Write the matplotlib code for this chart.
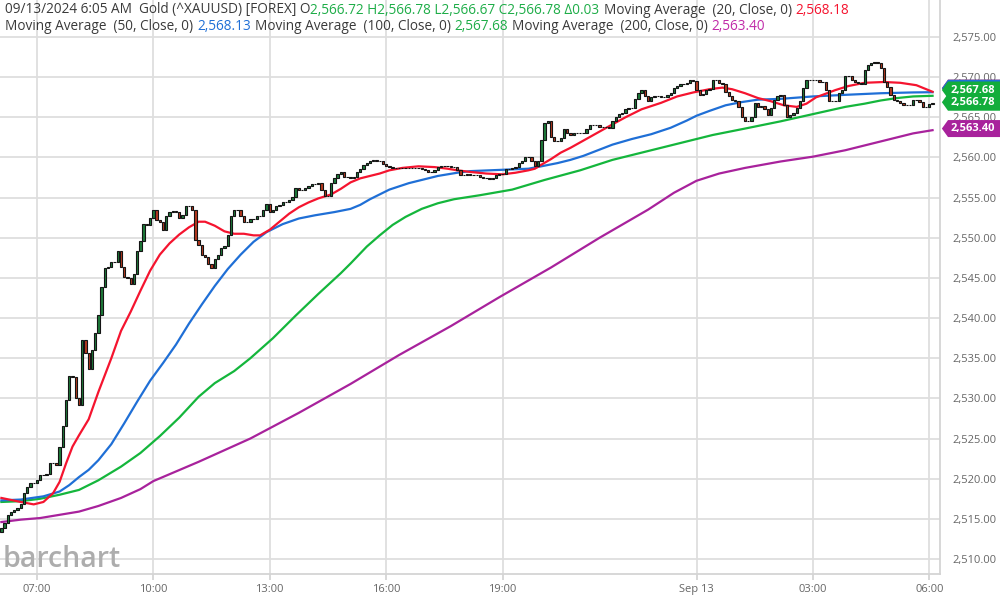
import numpy as np
import pandas as pd
import matplotlib
matplotlib.use('Agg')
import matplotlib.pyplot as plt
from matplotlib.patches import Polygon
from matplotlib.transforms import blended_transform_factory

plt.rcParams['font.family'] = ['Open Sans', 'DejaVu Sans']

# 5 minute closes, 06:05 Sep 12 -> 06:05 Sep 13 (one row per hour)
closes = [
    2513.8, 2514.5, 2515.5, 2515.9, 2516.1, 2516.3, 2516.9, 2518.2, 2519.0, 2519.4, 2519.5, 2519.8,
    2520.5, 2520.5, 2520.6, 2521.9, 2522.0, 2521.7, 2524.0, 2526.6, 2529.8, 2532.8, 2532.7, 2530.0,
    2529.2, 2537.3, 2535.6, 2533.7, 2536.0, 2538.1, 2540.4, 2543.9, 2546.2, 2546.4, 2547.0, 2547.0,
    2548.4, 2546.4, 2545.1, 2545.0, 2544.3, 2545.5, 2548.3, 2549.6, 2551.7, 2551.6, 2552.5, 2553.5,
    2552.2, 2552.0, 2551.0, 2552.7, 2553.2, 2553.3, 2553.2, 2552.5, 2552.8, 2553.9, 2554.0, 2553.5,
    2549.7, 2549.1, 2547.9, 2547.6, 2546.7, 2546.2, 2547.4, 2547.9, 2548.7, 2549.0, 2550.3, 2552.7,
    2553.4, 2553.5, 2552.7, 2552.0, 2552.0, 2552.3, 2552.4, 2552.7, 2552.7, 2553.5, 2554.2, 2553.2,
    2553.5, 2553.9, 2554.1, 2554.4, 2554.4, 2554.7, 2555.1, 2556.2, 2555.9, 2555.9, 2556.2, 2556.4,
    2556.7, 2556.7, 2556.8, 2556.0, 2555.2, 2555.2, 2556.8, 2557.4, 2558.0, 2558.2, 2557.6, 2557.6,
    2557.5, 2557.6, 2558.2, 2558.6, 2559.1, 2559.3, 2559.6, 2559.7, 2559.6, 2559.5, 2559.2, 2559.0,
    2558.8, 2558.7, 2558.7, 2558.7, 2558.7, 2558.7, 2558.7, 2558.7, 2558.7, 2558.7, 2558.6, 2558.4,
    2558.2, 2558.2, 2558.5, 2558.8, 2558.9, 2558.9, 2558.9, 2558.8, 2558.8, 2558.4, 2557.8, 2557.8,
    2557.9, 2557.8, 2557.8, 2557.8, 2557.6, 2557.4, 2557.4, 2557.3, 2557.5, 2557.8, 2557.9, 2558.0,
    2558.6, 2558.6, 2558.7, 2558.8, 2559.3, 2559.5, 2560.0, 2560.0, 2559.6, 2558.9, 2559.6, 2562.2,
    2564.3, 2564.6, 2562.6, 2562.1, 2562.0, 2562.4, 2563.5, 2563.0, 2562.8, 2563.0, 2563.0, 2563.0,
    2563.0, 2563.6, 2564.0, 2564.0, 2564.0, 2563.8, 2563.8, 2563.8, 2563.7, 2564.6, 2565.1, 2565.4,
    2565.5, 2566.0, 2566.1, 2566.1, 2567.3, 2568.0, 2568.4, 2567.6, 2567.0, 2567.5, 2567.6, 2567.6,
    2567.5, 2567.5, 2567.8, 2568.0, 2568.6, 2568.9, 2569.1, 2569.1, 2569.3, 2569.6, 2569.5, 2568.4,
    2567.8, 2567.9, 2568.4, 2568.5, 2569.6, 2569.7, 2569.3, 2569.2, 2568.2, 2567.6, 2567.2, 2567.0,
    2566.3, 2565.1, 2564.5, 2564.6, 2565.0, 2566.8, 2566.3, 2566.4, 2566.0, 2565.3, 2566.1, 2567.2,
    2567.6, 2567.8, 2566.5, 2565.1, 2565.3, 2565.5, 2566.1, 2567.0, 2568.6, 2569.6, 2569.7, 2569.7,
    2569.6, 2569.4, 2569.4, 2568.4, 2567.0, 2567.0, 2567.0, 2568.0, 2568.4, 2570.1, 2570.1, 2569.7,
    2569.4, 2569.3, 2569.2, 2570.9, 2571.5, 2571.8, 2571.9, 2571.8, 2571.1, 2569.4, 2568.8, 2567.8,
    2567.2, 2567.0, 2566.8, 2566.5, 2566.5, 2566.5, 2567.2, 2567.2, 2566.9, 2566.3, 2566.3, 2566.72,
    2566.78,
]
first_open = 2513.3
start_time = '2024-09-12 06:05'

# moving averages read at bar indexes
ma20_idx = [0, 6, 10, 13, 16, 18, 20, 22, 24, 27, 30, 34, 37, 40, 43, 46, 49, 52, 55, 58, 61, 63, 66,
            69, 72, 75, 78, 80, 83, 86, 89, 92, 95, 98, 102, 105, 108, 111, 114, 117, 120, 124, 129,
            134, 138, 141, 145, 150, 155, 159, 163, 165, 167, 170, 173, 176, 180, 184, 188, 193, 198,
            204, 209, 214, 219, 223, 226, 230, 234, 238, 242, 246, 249, 252, 258, 262, 267, 273, 278,
            283, 288]
ma20_val = [2517.6, 2517.1, 2516.8, 2517.1, 2518.2, 2519.6, 2521.9, 2524.0, 2525.4, 2527.4, 2530.8,
            2535.0, 2538.4, 2540.8, 2543.4, 2545.9, 2547.9, 2549.3, 2550.4, 2551.3, 2552.0, 2552.0,
            2551.5, 2550.8, 2550.5, 2550.5, 2550.3, 2550.3, 2551.0, 2552.0, 2553.0, 2553.8, 2554.4,
            2554.9, 2555.4, 2556.1, 2556.9, 2557.4, 2557.7, 2558.0, 2558.4, 2558.7, 2558.9, 2558.8,
            2558.6, 2558.4, 2558.2, 2558.0, 2557.9, 2558.1, 2558.4, 2558.6, 2559.1, 2559.8, 2560.6,
            2561.2, 2562.1, 2563.0, 2563.9, 2565.0, 2566.0, 2566.8, 2567.6, 2568.1, 2568.5, 2568.7,
            2568.5, 2568.0, 2567.4, 2567.0, 2566.5, 2566.3, 2566.7, 2567.5, 2568.4, 2568.9, 2569.3,
            2569.4, 2569.3, 2569.0, 2568.18]

ma50_idx = [0, 6, 13, 18, 21, 24, 27, 30, 34, 38, 42, 46, 50, 54, 58, 62, 66, 70, 74, 78, 82, 87, 92,
            97, 103, 108, 111, 114, 117, 120, 126, 135, 141, 145, 151, 157, 163, 167, 172, 176, 180,
            189, 195, 201, 207, 212, 215, 219, 224, 229, 234, 241, 251, 261, 272, 282, 288]
ma50_val = [2517.3, 2517.4, 2517.8, 2518.4, 2519.2, 2520.2, 2521.1, 2522.3, 2524.3, 2526.9, 2529.6,
            2532.2, 2534.4, 2536.7, 2539.3, 2541.7, 2544.0, 2546.1, 2547.9, 2549.5, 2550.7, 2551.7,
            2552.4, 2552.8, 2553.2, 2553.6, 2554.1, 2554.8, 2555.4, 2556.0, 2556.8, 2557.7, 2558.1,
            2558.3, 2558.4, 2558.5, 2558.6, 2558.9, 2559.3, 2559.7, 2560.2, 2561.6, 2562.3, 2562.9,
            2563.7, 2564.6, 2565.2, 2565.8, 2566.5, 2566.9, 2567.2, 2567.3, 2567.6, 2567.8, 2568.0,
            2568.1, 2568.13]

ma100_idx = [0, 6, 12, 18, 24, 30, 37, 43, 49, 55, 61, 66, 72, 77, 84, 91, 98, 105, 108, 113, 117,
             121, 125, 130, 135, 140, 148, 158, 163, 168, 179, 189, 199, 210, 220, 230, 241, 251,
             261, 267, 272, 277, 282, 288]
ma100_val = [2517.1, 2517.2, 2517.5, 2518.0, 2518.6, 2519.8, 2521.5, 2523.2, 2525.3, 2527.6, 2530.2,
             2531.9, 2533.4, 2535.0, 2537.5, 2540.3, 2543.0, 2545.6, 2546.8, 2548.9, 2550.3, 2551.6,
             2552.6, 2553.6, 2554.3, 2554.8, 2555.3, 2556.0, 2556.6, 2557.2, 2558.4, 2559.7, 2560.7,
             2561.8, 2562.8, 2563.6, 2564.5, 2565.4, 2566.3, 2566.7, 2567.1, 2567.4, 2567.6, 2567.68]

ma200_idx = [0, 6, 12, 18, 24, 30, 37, 43, 47, 61, 77, 92, 108, 123, 139, 154, 170, 185, 200, 208,
             215, 222, 230, 241, 251, 261, 272, 282, 288]
ma200_val = [2514.6, 2514.9, 2515.1, 2515.5, 2515.9, 2516.6, 2517.6, 2518.7, 2519.7, 2522.1, 2525.0,
             2528.2, 2531.8, 2535.4, 2539.0, 2542.6, 2546.3, 2550.0, 2553.5, 2555.6, 2557.1, 2558.0,
             2558.7, 2559.5, 2560.1, 2560.9, 2562.0, 2563.0, 2563.4]

tick_times = ['2024-09-12 07:00', '2024-09-12 10:00', '2024-09-12 13:00', '2024-09-12 16:00',
              '2024-09-12 19:00', '2024-09-13 00:00', '2024-09-13 03:00', '2024-09-13 06:00']
tick_labels = ['07:00', '10:00', '13:00', '16:00', '19:00', 'Sep 13', '03:00', '06:00']
price_ticks = list(range(2510, 2580, 5))

RED, BLUE, GREEN, PURPLE = '#f5142f', '#1f6fd6', '#14b63c', '#a8229c'
TXT = '#3a3a3a'
GRID = '#dedede'

fig = plt.figure(figsize=(10, 5.98), dpi=100)
ax = fig.add_axes([0, 24 / 598, 940 / 1000, 574 / 598])

closes = np.array(closes)
times = pd.date_range(start_time, periods=len(closes), freq='5min')
x = np.arange(len(closes))
opens = np.r_[first_open, closes[:-1]]
up = closes >= opens
low = np.minimum(opens, closes)
h = np.abs(closes - opens)

ax.plot(ma200_idx, ma200_val, color=PURPLE, lw=1.6, zorder=2)
ax.plot(ma100_idx, ma100_val, color=GREEN, lw=1.6, zorder=2)
ax.plot(ma50_idx, ma50_val, color=BLUE, lw=1.6, zorder=2)
ax.plot(ma20_idx, ma20_val, color=RED, lw=1.6, zorder=2)

ax.bar(x[up], h[up], bottom=low[up], width=0.72, color='#1d7a3a', edgecolor='#141414', linewidth=0.8, zorder=3)
ax.bar(x[~up], h[~up], bottom=low[~up], width=0.72, color='#b5381f', edgecolor='#141414', linewidth=0.8, zorder=3)

ax.set_xlim(-0.43, 290.3)
ax.set_ylim(2508.13, 2579.61)
ax.set_xticks([times.get_loc(pd.Timestamp(t)) for t in tick_times])
ax.set_xticklabels(tick_labels)
ax.set_yticks(price_ticks)
ax.set_yticklabels([f'{p:,.2f}' for p in price_ticks])
ax.yaxis.tick_right()
ax.grid(color=GRID, lw=1.3, zorder=0)
ax.tick_params(axis='x', length=4, color='#d4d4d4', width=1.3, labelcolor='#666666', labelsize=8, pad=3)
ax.tick_params(axis='y', length=0, labelcolor='#666666', labelsize=8, pad=9)
for s in ['top', 'left']:
    ax.spines[s].set_visible(False)
for s in ['bottom', 'right']:
    ax.spines[s].set_color('#d4d4d4')
    ax.spines[s].set_linewidth(1.3)

# price tags on the right (stacked like the reference; hidden ones carry no text)
tr = blended_transform_factory(ax.transAxes, ax.transData)
hh = 8.5 / 8.03
def tag(val, text, color, shift=0.0, z=10):
    yc = val + shift
    poly = Polygon([(1.002, yc), (1.0085, yc - hh), (1.07, yc - hh), (1.07, yc + hh), (1.0085, yc + hh)],
                   closed=True, transform=tr, clip_on=False, facecolor=color, edgecolor='none', zorder=z)
    ax.add_patch(poly)
    if text:
        ax.text(1.0115, yc, text, transform=tr, color='white', fontsize=8, fontweight='bold',
                va='center', ha='left', clip_on=False, zorder=z + 1)

tag(2568.18, None, RED, 0.45, 10)
tag(2568.13, None, BLUE, 0.5, 10)
tag(2567.68, '2,567.68', '#12ad3b', 0.72, 12)
tag(2566.78, '2,566.78', '#12ad3b', 0.1, 14)
tag(2563.40, '2,563.40', PURPLE, 0.2, 14)

# header
renderer = fig.canvas.get_renderer()
def header(y_px, parts):
    xp = 5
    for s, c in parts:
        if s == ' ':
            xp += 3.9
            continue
        t = fig.text(xp / 1000, 1 - y_px / 598, s, color=c, fontsize=9.8, va='center', ha='left')
        xp += t.get_window_extent(renderer).width

header(10, [('09/13/2024 6:05 AM  Gold (^XAUUSD) [FOREX] O', TXT),
            ('2,566.72 H2,566.78 L2,566.67 C2,566.78 Δ0.03', '#1ead48'), (' ', None),
            ('Moving Average  (20, Close, 0)', TXT), (' ', None), ('2,568.18', RED)])
header(27, [('Moving Average  (50, Close, 0)', TXT), (' ', None), ('2,568.13', BLUE), (' ', None),
            ('Moving Average  (100, Close, 0)', TXT), (' ', None), ('2,567.68', '#1ead48'), (' ', None),
            ('Moving Average  (200, Close, 0)', TXT), (' ', None), ('2,563.40', '#c02aa8')])

fig.text(3 / 1000, 1 - 567 / 598, 'barchart', color='#adadad', fontsize=20.5, fontweight=600,
         va='baseline', ha='left')

fig.savefig('out.png', dpi=100)
